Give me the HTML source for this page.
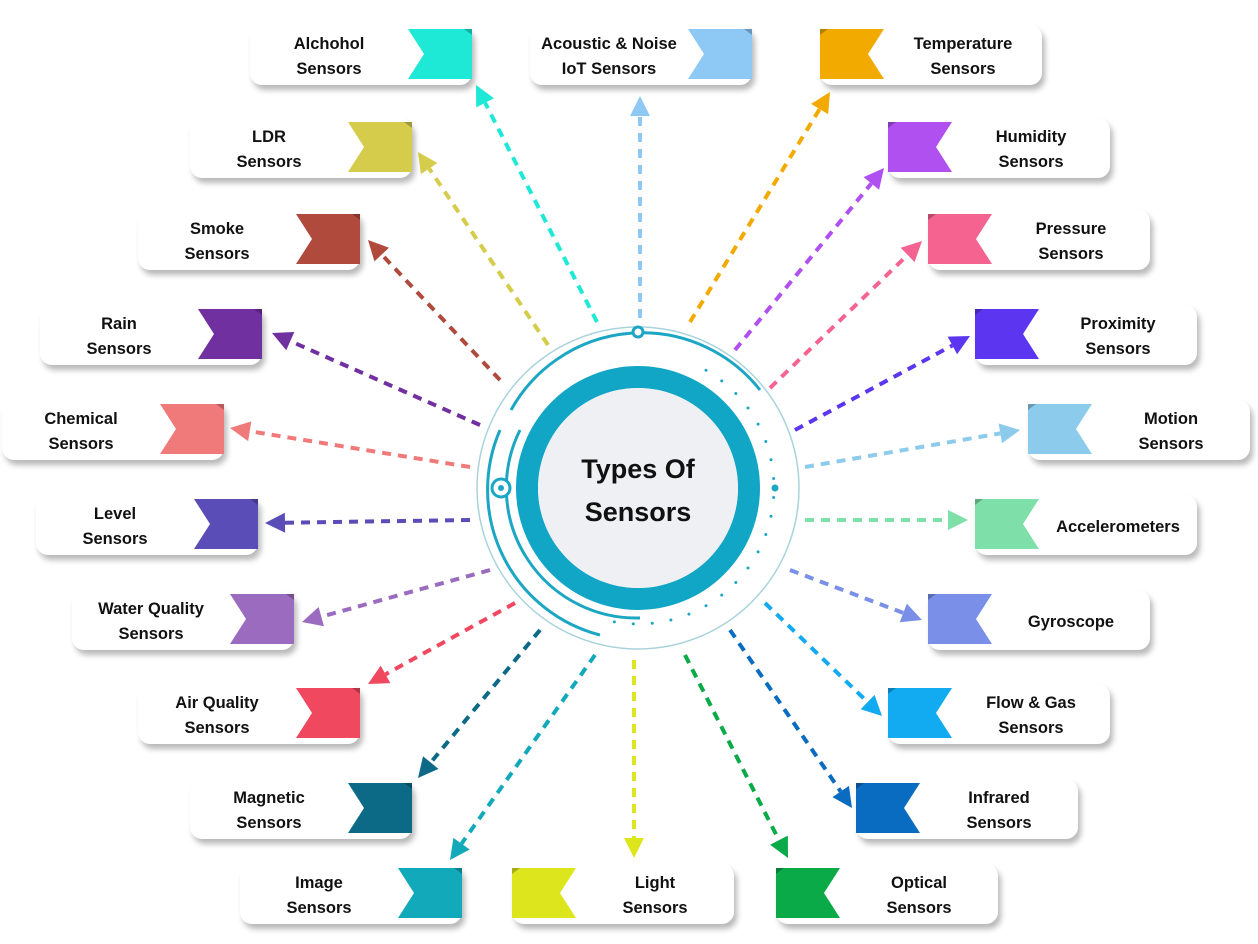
<!DOCTYPE html>
<html><head><meta charset="utf-8"><style>
body{margin:0;width:1258px;height:944px;background:#fff;position:relative;overflow:hidden;font-family:"Liberation Sans",sans-serif}
.c{position:absolute;width:222px;height:60px;background:#fff;border-radius:12px;box-shadow:3px 5px 6px rgba(0,0,0,.28)}
.t{position:absolute;top:2px;height:60px;width:150px;display:flex;align-items:center;justify-content:center;text-align:center;font-weight:bold;font-size:16.5px;line-height:25px;color:#111}
.L .t{left:4px}.R .t{right:4px}
svg{position:absolute;left:0;top:0}
</style></head><body>
<svg id="s" width="1258" height="944"></svg>
<div id="cards"></div>
<script>
var cards=[
["L",250,25,"#1de9d6","Alchohol<br>Sensors"],
["L",190,118,"#d4cc4a","LDR<br>Sensors"],
["L",138,210,"#b04a3c","Smoke<br>Sensors"],
["L",40,305,"#7030a0","Rain<br>Sensors"],
["L",2,400,"#f07a7a","Chemical<br>Sensors"],
["L",36,495,"#5b4db8","Level<br>Sensors"],
["L",72,590,"#9b6bc0","Water Quality<br>Sensors"],
["L",138,684,"#f0485e","Air Quality<br>Sensors"],
["L",190,779,"#0d6a86","Magnetic<br>Sensors"],
["L",240,864,"#12aabb","Image<br>Sensors"],
["L",530,25,"#8ec8f5","Acoustic &amp; Noise<br>IoT Sensors"],
["R",512,864,"#dde61c","Light<br>Sensors"],
["R",820,25,"#f2aa00","Temperature<br>Sensors"],
["R",888,118,"#b050f0","Humidity<br>Sensors"],
["R",928,210,"#f56490","Pressure<br>Sensors"],
["R",975,305,"#5b35f0","Proximity<br>Sensors"],
["R",1028,400,"#8ccbec","Motion<br>Sensors"],
["R",975,495,"#7ee0a8","Accelerometers"],
["R",928,590,"#7a90e8","Gyroscope"],
["R",888,684,"#12aaf0","Flow &amp; Gas<br>Sensors"],
["R",856,779,"#0a6cc0","Infrared<br>Sensors"],
["R",776,864,"#0aaa48","Optical<br>Sensors"]];
var h="";
cards.forEach(function(c){
 var fx=c[0]=="L"?158:0;
 var pts=c[0]=="L"?"0,0 64,0 64,50 0,50 16,25":"0,0 64,0 48,25 64,50 0,50";
 h+='<div class="c '+c[0]+'" style="left:'+c[1]+'px;top:'+c[2]+'px"><div class="t">'+c[4]+'</div>'+
 '<svg width="66" height="52" style="left:'+fx+'px;top:4px;overflow:visible"><polygon points="'+pts+'" fill="'+c[3]+'"/><polygon points="'+(c[0]=="L"?"56,0 64,0 64,6":"0,0 8,0 0,6")+'" fill="rgba(0,0,0,.25)"/></svg></div>';
});
document.getElementById("cards").innerHTML=h;
var ar=[
[597,322,476,85,"#1de9d6"],[640,318,640,96,"#8ec8f5"],[690,322,830,92,"#f2aa00"],
[548,345,418,152,"#d4cc4a"],[735,350,884,168,"#b050f0"],[500,380,368,240,"#b04a3c"],
[770,388,922,241,"#f56490"],[480,425,272,333,"#7030a0"],[795,430,970,336,"#5b35f0"],
[470,467,230,428,"#f07a7a"],[805,467,1020,430,"#8ccbec"],[470,520,265,523,"#5b4db8"],
[805,520,968,520,"#7ee0a8"],[490,570,302,622,"#9b6bc0"],[790,570,922,620,"#7a90e8"],
[515,603,368,684,"#f0485e"],[765,603,882,716,"#12aaf0"],[540,630,418,778,"#0d6a86"],
[730,630,852,808,"#0a6cc0"],[595,655,450,860,"#12aabb"],[634,660,634,858,"#dde61c"],
[685,655,788,858,"#0aaa48"]];
var cx=638,cy=488;
var s='<circle cx="638" cy="488" r="161" fill="none" stroke="#a9d3dc" stroke-width="1.5"/>'+
'<path d="M 511 410 A 150 150 0 0 1 760 390" fill="none" stroke="#1ba6c4" stroke-width="3"/>'+
'<path d="M 520 430 A 130 130 0 0 0 640 618" fill="none" stroke="#1ba6c4" stroke-width="3"/>'+
'<path d="M 500 430 A 150 150 0 0 0 600 635" fill="none" stroke="#1ba6c4" stroke-width="3"/>'+
'<circle cx="638" cy="488" r="111" fill="none" stroke="#12a6c6" stroke-width="22"/>'+
'<circle cx="638" cy="488" r="100" fill="#eef0f3"/>'+
'<circle cx="638" cy="332" r="5" fill="#fff" stroke="#1ba6c4" stroke-width="3"/>'+
'<circle cx="501" cy="488" r="9" fill="#fff" stroke="#1ba6c4" stroke-width="3"/><circle cx="501" cy="488" r="3" fill="#1ba6c4"/>'+
'<circle cx="775" cy="488" r="3.5" fill="#1ba6c4"/>';
for(var a=-60;a<=100;a+=8){var r=a*Math.PI/180;s+='<circle cx="'+(cx+136*Math.cos(r))+'" cy="'+(cy+136*Math.sin(r))+'" r="1.5" fill="#1ba6c4"/>';}
ar.forEach(function(a){
 var dx=a[2]-a[0],dy=a[3]-a[1],L=Math.sqrt(dx*dx+dy*dy),ux=dx/L,uy=dy/L;
 var bx=a[2]-ux*20,by=a[3]-uy*20,px=-uy*10,py=ux*10;
 s+='<line x1="'+a[0]+'" y1="'+a[1]+'" x2="'+bx+'" y2="'+by+'" stroke="'+a[4]+'" stroke-width="4" stroke-dasharray="9 7"/>';
 s+='<polygon points="'+a[2]+','+a[3]+' '+(bx+px)+','+(by+py)+' '+(bx-px)+','+(by-py)+'" fill="'+a[4]+'"/>';
});
s+='<text x="638" y="478" text-anchor="middle" font-family="Liberation Sans,sans-serif" font-weight="bold" font-size="27" fill="#111">Types Of</text>'+
'<text x="638" y="521" text-anchor="middle" font-family="Liberation Sans,sans-serif" font-weight="bold" font-size="27" fill="#111">Sensors</text>';
document.getElementById("s").innerHTML=s;
</script>
</body></html>
